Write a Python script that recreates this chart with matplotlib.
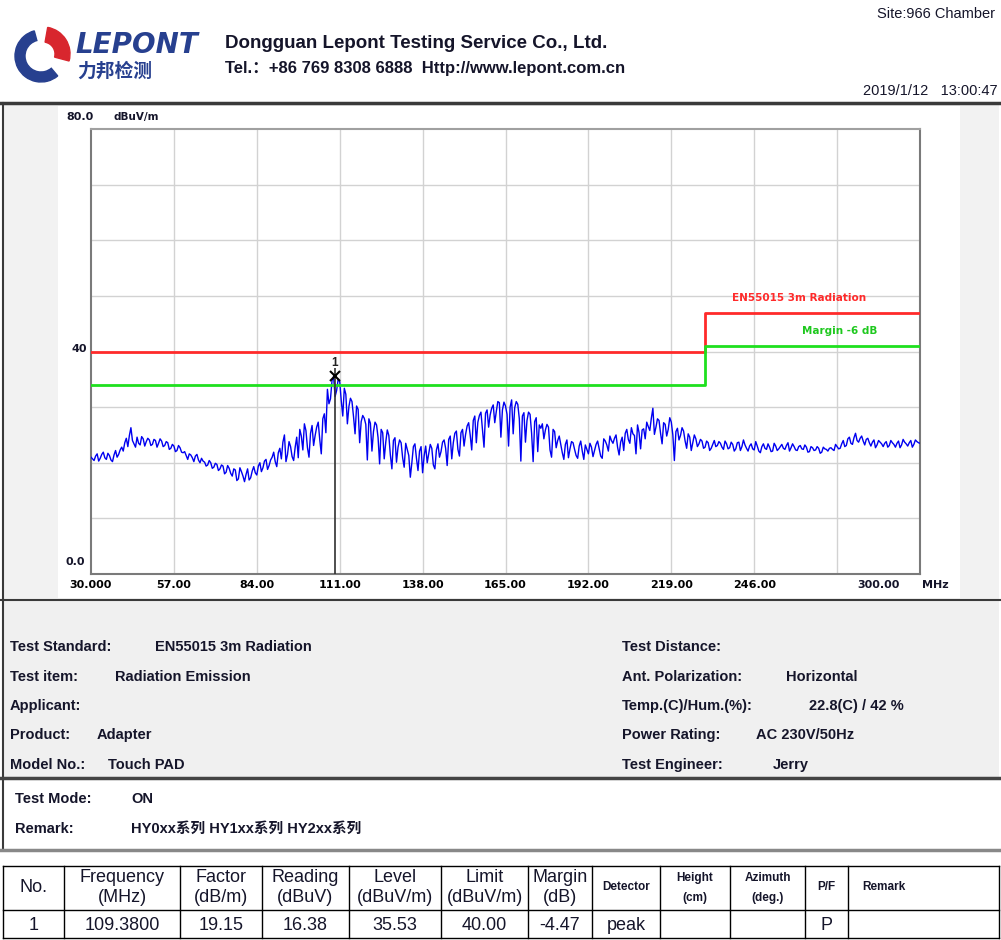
import matplotlib.pyplot as plt
from matplotlib.patches import Rectangle, Wedge
import numpy as np

plt.rcParams['font.family'] = ['Liberation Sans', 'Noto Sans CJK SC', 'DejaVu Sans']

###### DATA ######
# scan trace: whole-MHz samples from 30 to 300 MHz ...
freq_mhz = list(range(30, 301))
level_dbuv = [
    21.0, 20.4, 21.6, 20.8, 21.9, 20.6, 21.3, 20.2, 22.2, 21.5,   # 30
    22.8, 23.6, 22.9, 26.3, 23.4, 24.6, 23.2, 24.3, 23.8, 24.1,   # 40
    23.3, 24.0, 23.5, 23.9, 23.1, 23.6, 22.6, 23.0, 22.2, 22.7,   # 50
    21.8, 21.3, 21.6, 20.9, 21.2, 20.5, 20.8, 20.1, 19.6, 20.0,   # 60
    19.2, 19.7, 18.9, 19.4, 18.3, 19.0, 17.6, 18.7, 17.1, 18.4,   # 70
    16.6, 18.9, 17.3, 19.3, 17.8, 20.0, 19.1, 20.6, 19.5, 21.0,   # 80
    20.2, 21.8, 20.7, 25.0, 21.5, 22.9, 20.4, 24.6, 26.0, 22.3,   # 90
    25.8, 21.0, 26.7, 24.9, 27.3, 21.6, 28.8, 33.2, 31.5, 35.5,   # 100
    33.0, 34.6, 28.4, 32.3, 30.1, 31.0, 25.2, 29.6, 27.4, 28.0,   # 110
    20.5, 27.1, 25.6, 26.8, 19.8, 25.4, 23.7, 24.9, 18.9, 24.5,   # 120
    22.8, 23.6, 19.2, 22.4, 17.4, 22.9, 20.8, 22.1, 18.2, 23.0,   # 130
    21.7, 22.6, 18.9, 23.4, 22.0, 24.1, 19.5, 24.8, 23.6, 25.7,   # 140
    21.2, 26.0, 25.1, 27.2, 22.3, 28.4, 27.3, 29.1, 22.8, 29.5,   # 150
    28.6, 30.4, 29.2, 30.8, 29.5, 30.2, 23.0, 31.3, 29.9, 30.5,   # 160
    20.3, 29.0, 27.6, 28.7, 20.2, 28.1, 26.8, 27.0, 25.9, 26.4,   # 170
    21.0, 25.6, 24.0, 23.3, 20.6, 24.1, 22.5, 23.6, 21.3, 23.0,   # 180
    22.1, 23.2, 21.6, 22.8, 22.2, 23.9, 21.2, 24.3, 23.2, 24.8,   # 190
    23.5, 25.0, 21.4, 24.6, 25.3, 24.2, 26.3, 24.9, 26.8, 22.5,   # 200
    26.1, 27.3, 25.8, 29.8, 26.4, 27.6, 23.4, 26.9, 26.0, 27.3,   # 210
    20.4, 26.2, 24.9, 25.7, 22.6, 24.6, 23.6, 24.3, 23.4, 23.9,   # 220
    22.8, 23.6, 22.6, 24.0, 23.1, 23.5, 22.4, 23.4, 22.7, 23.3,   # 230
    22.5, 23.7, 22.9, 23.2, 22.1, 23.4, 22.3, 23.0, 21.8, 23.4,   # 240
    22.4, 22.8, 22.1, 23.0, 22.5, 23.3, 22.4, 23.6, 22.7, 22.9,   # 250
    22.2, 23.1, 22.4, 22.8, 22.0, 22.7, 22.3, 22.6, 21.9, 22.5,   # 260
    22.1, 22.7, 22.2, 22.9, 22.6, 24.0, 23.1, 24.6, 23.3, 25.3,   # 270
    23.7, 24.8, 23.2, 24.4, 23.0, 24.1, 23.2, 23.7, 22.9, 23.8,   # 280
    23.1, 23.6, 22.8, 23.9, 23.2, 23.7, 23.0, 24.0, 23.3, 23.8,   # 290
    23.5,                                                         # 300
]
# ... and the samples in between (30.5 to 299.5 MHz)
half_freq_mhz = [f + 0.5 for f in range(30, 300)]
half_level_dbuv = [
    20.7, 21.2, 20.3, 21.5, 20.9, 21.7, 20.5, 21.4, 21.0, 22.3,   # 30.5
    22.1, 24.4, 24.9, 24.0, 22.8, 23.5, 24.7, 23.0, 24.4, 23.1,   # 40.5
    24.2, 22.8, 24.3, 22.9, 23.8, 22.4, 23.3, 22.0, 23.1, 21.9,   # 50.5
    22.0, 20.6, 21.4, 20.2, 21.5, 20.0, 20.3, 19.4, 20.4, 19.0,   # 60.5
    19.9, 18.6, 19.6, 18.0, 19.5, 18.1, 18.9, 16.8, 19.1, 17.6,   # 70.5
    17.9, 16.9, 18.5, 18.2, 19.4, 18.4, 20.3, 18.8, 20.5, 21.9,   # 80.5
    19.3, 22.6, 23.7, 20.2, 23.8, 21.1, 22.8, 20.9, 24.8, 27.0,   # 90.5
    22.7, 25.3, 23.1, 26.4, 24.2, 27.9, 25.4, 30.6, 34.8, 31.9,   # 100.5
    35.0, 31.2, 33.4, 27.0, 31.6, 28.3, 30.2, 23.6, 28.5, 26.9,   # 110.5
    27.9, 22.1, 27.3, 24.5, 26.0, 20.7, 25.9, 21.4, 24.0, 20.1,   # 120.5
    24.1, 20.9, 23.5, 21.3, 20.0, 23.4, 18.6, 22.9, 21.2, 20.0,   # 130.5
    23.3, 19.6, 22.3, 21.0, 23.7, 22.6, 24.2, 20.7, 25.3, 22.4,   # 140.5
    25.4, 23.0, 26.6, 25.0, 27.6, 23.6, 28.5, 25.9, 28.9, 26.4,   # 150.5
    29.8, 27.2, 31.0, 24.6, 30.9, 28.7, 30.0, 25.2, 31.0, 27.9,   # 160.5
    28.4, 23.7, 29.1, 25.3, 27.4, 22.0, 26.2, 24.3, 26.9, 22.3,   # 170.5
    26.0, 22.7, 24.8, 21.8, 23.3, 20.9, 23.8, 22.4, 20.8, 23.9,   # 180.5
    20.6, 22.4, 23.5, 21.1, 23.3, 22.5, 20.8, 23.9, 22.1, 24.0,   # 190.5
    24.4, 22.8, 23.7, 22.2, 26.0, 23.5, 25.2, 21.6, 25.4, 25.9,   # 200.5
    24.3, 26.5, 28.0, 25.1, 27.9, 25.3, 27.2, 24.8, 28.1, 25.0,   # 210.5
    25.6, 24.1, 26.3, 23.9, 25.2, 22.2, 25.0, 22.9, 24.2, 22.6,   # 220.5
    23.9, 22.2, 23.3, 22.9, 23.8, 22.8, 23.9, 22.5, 23.7, 22.1,   # 230.5
    23.6, 22.2, 24.1, 22.6, 23.0, 22.5, 23.8, 22.1, 22.9, 22.6,   # 240.5
    23.4, 22.0, 23.5, 22.2, 22.9, 22.6, 23.1, 22.1, 23.4, 22.3,   # 250.5
    22.9, 22.5, 23.2, 21.9, 22.9, 22.2, 22.9, 21.7, 22.8, 22.4,   # 260.5
    22.6, 22.4, 23.3, 22.5, 23.4, 22.9, 24.3, 23.5, 24.5, 24.0,   # 270.5
    24.4, 23.9, 24.2, 23.6, 23.7, 22.7, 24.0, 23.4, 23.5, 22.8,   # 280.5
    24.0, 23.3, 23.5, 22.7, 24.2, 23.4, 23.6, 22.8, 24.1, 23.6,   # 290.5
]

limit_freq = [30, 230, 230, 300]
limit_level = [40, 40, 47, 47]
margin_db = 6
peak_freq = 109.38
peak_level = 35.53

x_ticks = [30, 57, 84, 111, 138, 165, 192, 219, 246, 273, 300]
x_labels = ['30.000', '57.00', '84.00', '111.00', '138.00', '165.00',
            '192.00', '219.00', '246.00', '', '']
y_grid = [10, 20, 30, 40, 50, 60, 70]

left_keys = ['Test Standard:', 'Test item:', 'Applicant:', 'Product:', 'Model No.:']
left_vals = ['EN55015 3m Radiation', 'Radiation Emission', '', 'Adapter', 'Touch PAD']
right_keys = ['Test Distance:', 'Ant. Polarization:', 'Temp.(C)/Hum.(%):',
              'Power Rating:', 'Test Engineer:']
right_vals = ['', 'Horizontal', '22.8(C) / 42 %', 'AC 230V/50Hz', 'Jerry']

tbl_head1 = ['No.', 'Frequency', 'Factor', 'Reading', 'Level', 'Limit', 'Margin',
             'Detector', 'Height', 'Azimuth', 'P/F', 'Remark']
tbl_head2 = ['', '(MHz)', '(dB/m)', '(dBuV)', '(dBuV/m)', '(dBuV/m)', '(dB)',
             '', '(cm)', '(deg.)', '', '']
tbl_row = ['1', '109.3800', '19.15', '16.38', '35.53', '40.00', '-4.47',
           'peak', '', '', 'P', '']

# merge the two sample sets into one sweep
trace_f = np.empty(len(freq_mhz) + len(half_freq_mhz))
trace_v = np.empty_like(trace_f)
trace_f[0::2], trace_f[1::2] = freq_mhz, half_freq_mhz
trace_v[0::2], trace_v[1::2] = level_dbuv, half_level_dbuv

###### FIGURE ######
W, H = 1001, 940
fig = plt.figure(figsize=(W / 100, H / 100), dpi=100)
bg = fig.add_axes([0, 0, 1, 1])
bg.set_xlim(0, W)
bg.set_ylim(H, 0)
bg.axis('off')

ink = '#15152a'
mono = 'DejaVu Sans'

# header
bg.add_patch(Wedge((41, 56), 26, 50, 255, width=10, color='#27408f'))
bg.add_patch(Wedge((43, 54), 27, 280, 15, width=15, color='#d8262e'))
bg.text(75, 45, 'LEPONT', fontsize=20, fontweight='bold', style='italic',
        family=mono, color='#27408f', va='center')
bg.text(77, 71, '力邦检测', fontsize=13.5, family='Noto Sans CJK SC',
        fontweight='bold', color='#27408f', va='center')
bg.text(225, 43, 'Dongguan Lepont Testing Service Co., Ltd.', fontsize=13.5,
        fontweight='bold', color=ink, va='center')
bg.text(225, 69, 'Tel.：+86 769 8308 6888  Http://www.lepont.com.cn', fontsize=12,
        fontweight='bold', color=ink, va='center')
bg.text(995, 14, 'Site:966 Chamber', fontsize=10.5, color=ink, ha='right', va='center')
bg.text(998, 91, '2019/1/12   13:00:47', fontsize=10.5, color=ink, ha='right', va='center')

# chart panel
bg.add_patch(Rectangle((3, 104), 996, 495, facecolor='#f2f2f2', edgecolor='none'))
bg.add_patch(Rectangle((58, 106), 902, 492, facecolor='white', edgecolor='none'))
bg.plot([1, 1000], [103, 103], color='#3a3a3a', lw=2.5)
bg.plot([3, 3], [103, 600], color='#3a3a3a', lw=1.5)

# info panel
bg.add_patch(Rectangle((3, 600), 996, 178, facecolor='#f0f0f0', edgecolor='none'))
bg.plot([1, 1000], [600, 600], color='#3a3a3a', lw=1.5)
bg.plot([3, 3], [600, 850], color='#3a3a3a', lw=1.5)
bg.plot([1, 1000], [778, 778], color='#444444', lw=2.5)
bg.plot([1, 1000], [850, 850], color='#888888', lw=2.5)

key_y = [647, 677, 706, 735, 765]
left_val_x = [155, 115, 0, 97, 108]
right_val_x = [0, 786, 809, 756, 773]
for i in range(5):
    bg.text(10, key_y[i], left_keys[i], fontsize=10.5, fontweight='bold', color=ink, va='center')
    bg.text(left_val_x[i], key_y[i], left_vals[i], fontsize=10.5, fontweight='bold',
            color=ink, va='center')
    bg.text(622, key_y[i], right_keys[i], fontsize=10.5, fontweight='bold', color=ink, va='center')
    bg.text(right_val_x[i], key_y[i], right_vals[i], fontsize=10.5, fontweight='bold',
            color=ink, va='center')

bg.text(15, 799, 'Test Mode:', fontsize=10.5, fontweight='bold', color=ink, va='center')
bg.text(131, 799, 'ON', fontsize=10.5, fontweight='bold', color=ink, va='center')
bg.text(15, 829, 'Remark:', fontsize=10.5, fontweight='bold', color=ink, va='center')
bg.text(131, 829, 'HY0xx系列 HY1xx系列 HY2xx系列', fontsize=10.5, fontweight='bold',
        color=ink, va='center')

# result table
col_x = [3, 64, 180, 262, 349, 441, 528, 592, 660, 730, 805, 848, 999]
for y in [866, 910, 938]:
    bg.plot([col_x[0], col_x[-1]], [y, y], color='black', lw=1)
for x in col_x:
    bg.plot([x, x], [866, 938], color='black', lw=1)
for i in range(len(tbl_head1)):
    cx = (col_x[i] + col_x[i + 1]) / 2
    small = i >= 7
    fs = 8.5 if small else 13
    fw = 'bold' if small else 'normal'
    if i == 11:
        bg.text(col_x[i] + 14, 887, tbl_head1[i], fontsize=fs, fontweight=fw,
                color=ink, va='center')
    elif tbl_head2[i]:
        bg.text(cx, 878, tbl_head1[i], fontsize=fs, fontweight=fw, color=ink,
                ha='center', va='center')
        bg.text(cx, 898, tbl_head2[i], fontsize=fs, fontweight=fw, color=ink,
                ha='center', va='center')
    else:
        bg.text(cx, 887, tbl_head1[i], fontsize=fs, fontweight=fw, color=ink,
                ha='center', va='center')
    bg.text(cx, 925, tbl_row[i], fontsize=13, color=ink, ha='center', va='center')

###### CHART ######
ax = fig.add_axes([91 / W, 1 - 574 / H, 829 / W, 445 / H])
ax.set_xlim(30, 300)
ax.set_ylim(0, 80)
for xv in x_ticks[1:-1]:
    ax.axvline(xv, color='#d2d2d2', lw=1, zorder=0)
for yv in y_grid:
    ax.axhline(yv, color='#d2d2d2', lw=1, zorder=0)

ax.plot(trace_f, trace_v, color='#0000f0', lw=1.0, zorder=3)
ax.plot(limit_freq, limit_level, color='#ff2a2a', lw=2, zorder=4)
ax.plot(limit_freq, [v - margin_db for v in limit_level], color='#1ee01e', lw=2, zorder=4)

ax.vlines(peak_freq, 0, peak_level + 1.5, color='#303030', lw=1.2, zorder=5)
ax.plot(peak_freq, peak_level, marker='x', color='black', ms=7, mew=1.5, zorder=6)
ax.text(peak_freq, peak_level + 1.3, '1', fontsize=8.5, fontweight='bold',
        ha='center', va='bottom', color='#222222')

ax.text(238.8, 49.6, 'EN55015 3m Radiation', fontsize=7.5, fontweight='bold',
        color='#ff2a2a', va='center', family=mono)
ax.text(261.6, 43.7, 'Margin -6 dB', fontsize=7.5, fontweight='bold',
        color='#1ec81e', va='center', family=mono)

ax.set_xticks(x_ticks)
ax.set_xticklabels(x_labels, fontsize=8, fontweight='bold', family=mono)
ax.set_yticks([])
ax.tick_params(axis='x', length=0, pad=4)
for side in ['left', 'bottom', 'right', 'top']:
    ax.spines[side].set_color('#7a7a7a')
    ax.spines[side].set_linewidth(1.5)
ax.spines['top'].set_color('#a0a0a0')
ax.set_facecolor('white')

bg.text(879, 585, '300.00', fontsize=8, fontweight='bold', family=mono,
        color=ink, ha='center', va='center')
bg.text(922, 585, 'MHz', fontsize=8, fontweight='bold', family=mono,
        color=ink, va='center')
bg.text(66, 117, '80.0', fontsize=8, fontweight='bold', family=mono,
        color=ink, va='center')
bg.text(113, 117, 'dBuV/m', fontsize=7.5, fontweight='bold', family=mono,
        color=ink, va='center')
bg.text(72, 349, '40', fontsize=8, fontweight='bold', family=mono,
        color=ink, va='center')
bg.text(66, 562, '0.0', fontsize=8, fontweight='bold', family=mono,
        color=ink, va='center')

fig.savefig('out.png', dpi=100)
